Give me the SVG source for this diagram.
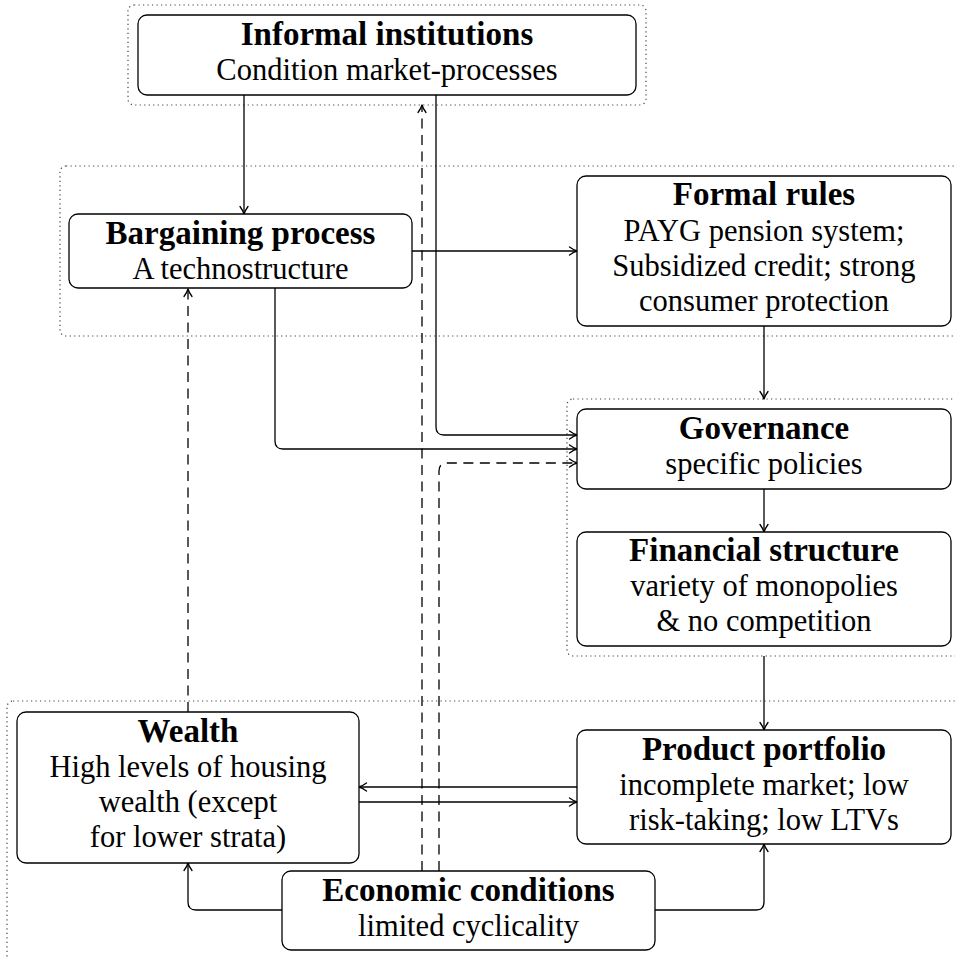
<svg xmlns="http://www.w3.org/2000/svg" width="955" height="957" viewBox="0 0 955 957">
<style>
.box{fill:#fff;stroke:#000;stroke-width:1.3}
.frame{fill:none;stroke:#444;stroke-width:1.2;stroke-dasharray:1.2 3.3}
.conn{fill:none;stroke:#000;stroke-width:1.3}
.dash{stroke-dasharray:10 6.5}
.lbl text{text-anchor:middle;fill:#000;font-size:30.5px}
.lbl .b{font-weight:bold;font-size:33px}
</style>
<defs>
<marker id="ah" markerUnits="userSpaceOnUse" viewBox="0 0 12 12" markerWidth="12" markerHeight="12" refX="10" refY="6" orient="auto">
<path d="M2.5 2 Q7 5.2 10 6 Q7 6.8 2.5 10" fill="none" stroke="#000" stroke-width="1.3" stroke-linejoin="round" stroke-linecap="round"/>
</marker>
</defs>
<rect width="955" height="957" fill="#fff"/>
<g id="frames">
<rect id="frame-informal" class="frame" x="128" y="5" width="518" height="100" rx="6"/>
<rect id="frame-rules" class="frame" x="60" y="166" width="905" height="170" rx="6"/>
<rect id="frame-governance" class="frame" x="567" y="399" width="398" height="257" rx="6"/>
<rect id="frame-market" class="frame" x="7" y="701" width="958" height="266" rx="6"/>
</g>
<g id="connectors">
<path class="conn" d="M244 95 V214" marker-end="url(#ah)"/>
<path class="conn" d="M412 251 H577" marker-end="url(#ah)"/>
<path class="conn" d="M764 326 V399" marker-end="url(#ah)"/>
<path class="conn" d="M436 95 V427 Q436 435 444 435 H577" marker-end="url(#ah)"/>
<path class="conn" d="M275 288 V441 Q275 449 283 449 H577" marker-end="url(#ah)"/>
<path class="conn dash" d="M439 871 V471 Q439 463 447 463 H577" marker-end="url(#ah)"/>
<path class="conn dash" d="M422 871 V105" marker-end="url(#ah)"/>
<path class="conn dash" d="M188 712 V289" marker-end="url(#ah)"/>
<path class="conn" d="M764 489 V532" marker-end="url(#ah)"/>
<path class="conn" d="M764 656 V730" marker-end="url(#ah)"/>
<path class="conn" d="M577 787 H359" marker-end="url(#ah)"/>
<path class="conn" d="M359 802 H577" marker-end="url(#ah)"/>
<path class="conn" d="M282 910 H196 Q188 910 188 902 V863" marker-end="url(#ah)"/>
<path class="conn" d="M655 910 H756 Q764 910 764 902 V844" marker-end="url(#ah)"/>
</g>
<g class="lbl" font-family="'Liberation Serif', 'Times New Roman', 'DejaVu Serif', serif">
<g id="informal">
<rect class="box" x="138" y="15" width="498" height="80" rx="9"/>
<text class="b" x="387" y="44.5">Informal institutions</text>
<text x="387" y="79.5">Condition market-processes</text>
</g>
<g id="bargaining">
<rect class="box" x="69" y="214" width="343" height="74" rx="9"/>
<text class="b" x="240.5" y="244">Bargaining process</text>
<text x="240.5" y="279">A technostructure</text>
</g>
<g id="formal">
<rect class="box" x="577" y="176" width="374" height="150" rx="9"/>
<text class="b" x="764" y="205">Formal rules</text>
<text x="764" y="241">PAYG pension system;</text>
<text x="764" y="276">Subsidized credit; strong</text>
<text x="764" y="311">consumer protection</text>
</g>
<g id="governance">
<rect class="box" x="577" y="409" width="374" height="80" rx="9"/>
<text class="b" x="764" y="438.5">Governance</text>
<text x="764" y="473.5">specific policies</text>
</g>
<g id="financial">
<rect class="box" x="577" y="532" width="374" height="114" rx="9"/>
<text class="b" x="764" y="561">Financial structure</text>
<text x="764" y="596">variety of monopolies</text>
<text x="764" y="631">&amp; no competition</text>
</g>
<g id="wealth">
<rect class="box" x="17" y="712" width="342" height="151" rx="9"/>
<text class="b" x="188" y="741.5">Wealth</text>
<text x="188" y="776.5">High levels of housing</text>
<text x="188" y="811.5">wealth (except</text>
<text x="188" y="846.5">for lower strata)</text>
</g>
<g id="product">
<rect class="box" x="577" y="730" width="374" height="114" rx="9"/>
<text class="b" x="764" y="759.5">Product portfolio</text>
<text x="764" y="794.5">incomplete market; low</text>
<text x="764" y="829.5">risk-taking; low LTVs</text>
</g>
<g id="economic">
<rect class="box" x="282" y="871" width="373" height="79" rx="9"/>
<text class="b" x="468.5" y="900.5">Economic conditions</text>
<text x="468.5" y="935.5">limited cyclicality</text>
</g>
</g>
</svg>
